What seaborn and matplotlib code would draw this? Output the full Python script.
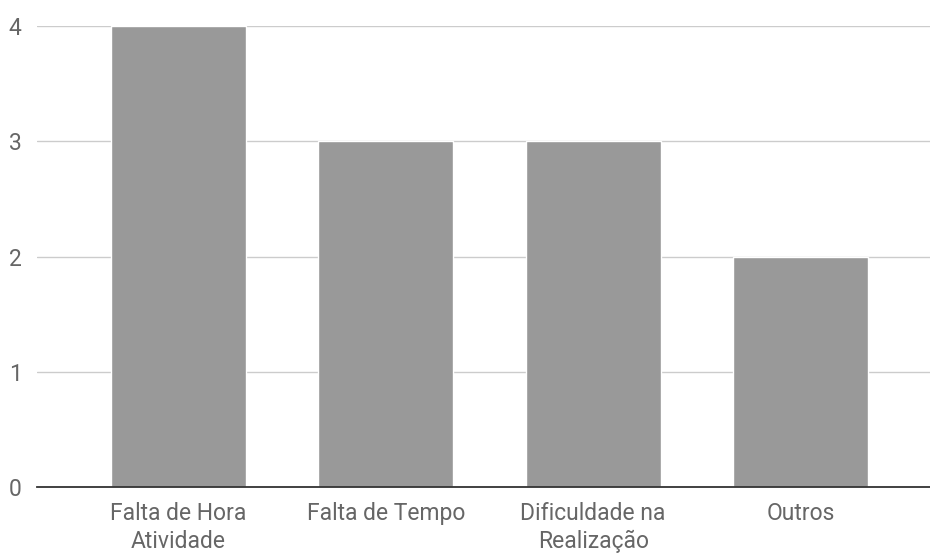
import matplotlib
matplotlib.use("Agg")
import matplotlib.pyplot as plt
import seaborn as sns
import pandas as pd

categorias = ["Falta de Hora\nAtividade", "Falta de Tempo", "Dificuldade na\nRealização", "Outros"]
valores = [4, 3, 3, 2]
y_ticks = [0, 1, 2, 3, 4]

df = pd.DataFrame({"categoria": categorias, "valor": valores})

sns.set_style("white")
plt.rcParams["font.family"] = ["Roboto", "DejaVu Sans"]

fig = plt.figure(figsize=(9.3, 5.54), dpi=100)
ax = fig.add_axes([37 / 930, 1 - 487 / 554, (930 - 37) / 930, (487 - 26) / 554])

sns.barplot(data=df, x="categoria", y="valor", color="#999999", width=0.652,
            saturation=1, ax=ax, zorder=3)

ax.set_ylim(0, 4)
ax.set_xlim(-0.5 - 38 / 207.3, 3.5 + 26 / 207.3)
ax.set_yticks(y_ticks)
ax.set_yticklabels([str(t) for t in y_ticks])
ax.yaxis.grid(True, color="#cccccc", linewidth=1, zorder=0)
ax.set_axisbelow(True)

for s in ["top", "right", "left"]:
    ax.spines[s].set_visible(False)
ax.spines["bottom"].set_color("#333333")
ax.spines["bottom"].set_linewidth(1.3)
ax.spines["bottom"].set_zorder(4)

ax.tick_params(axis="both", length=0, labelsize=16.5, labelcolor="#666666")
ax.tick_params(axis="y", pad=11)
ax.tick_params(axis="x", pad=11)
for lab in ax.get_xticklabels():
    lab.set_linespacing(1.25)
ax.set_xlabel("")
ax.set_ylabel("")

fig.savefig("out.png", dpi=100)
